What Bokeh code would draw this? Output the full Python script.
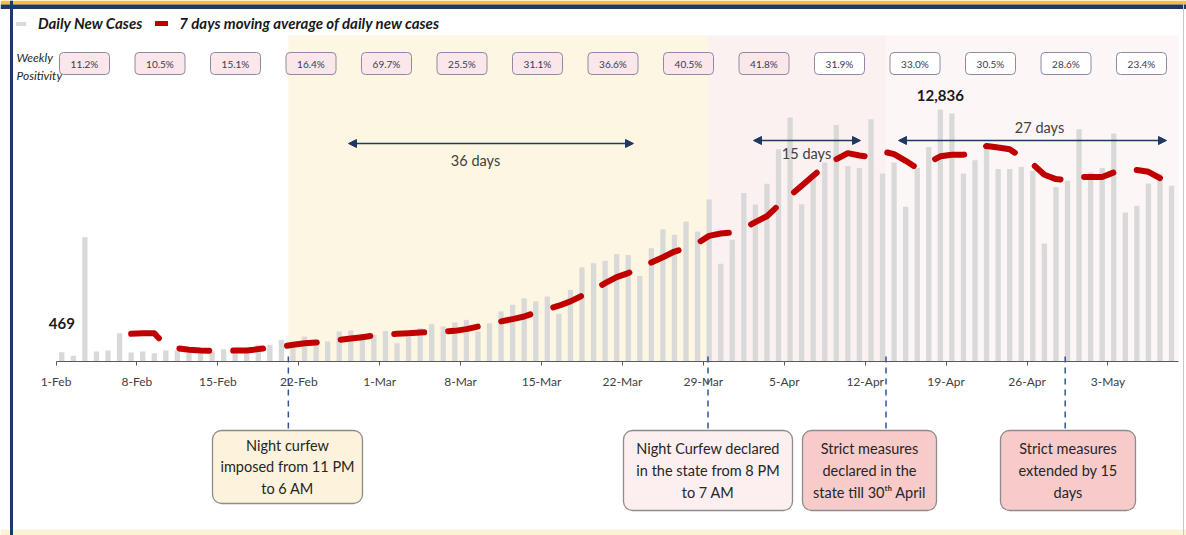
import numpy as np
from bokeh.plotting import figure
from bokeh.models import FixedTicker, Arrow, NormalHead, Legend, LegendItem, Span
from bokeh.core.properties import value
from bokeh.embed import file_html
from bokeh.resources import INLINE

# ---------------- data ----------------
tick_labels = ["1-Feb", "8-Feb", "15-Feb", "22-Feb", "1-Mar", "8-Mar", "15-Mar",
               "22-Mar", "29-Mar", "5-Apr", "12-Apr", "19-Apr", "26-Apr", "3-May"]

# daily new cases, one value per day starting 1-Feb
daily_cases = [
    469, 290, 6330, 510, 560, 1440, 460, 510, 425, 560,
    560, 430, 510, 510, 630, 460, 600, 850, 850, 1100,
    760, 1270, 930, 1020, 1530, 1580, 1410, 1360, 1550, 930,
    1270, 1700, 1900, 1780, 1990, 2120, 1530, 1950, 2550, 2890,
    3220, 3060, 3310, 2430, 3650, 4800, 5010, 5130, 5480, 5430,
    4360, 5770, 6740, 6450, 7130, 6620, 8250, 4980, 6200, 8580,
    8000, 9050, 10810, 12430, 8010, 9540, 10130, 12050, 9960, 9850,
    12340, 9570, 10130, 7880, 9850, 10930, 12836, 12630, 9570, 10250,
    10810, 9800, 9800, 9910, 9710, 6010, 8890, 9200, 11830, 9630,
    9850, 11610, 7590, 7930, 9070, 9570, 8950,
]

# 7 days moving average, starting on 7-Feb
ma_first_day = 6
moving_avg = [
    1410, 1440, 1440, 800, 680, 600, 560, 550, 550, 555,
    560, 630, 700, 760, 850, 930, 970, 1020, 1100, 1170,
    1240, 1320, 1390, 1410, 1440, 1480, 1490, 1530, 1560, 1650,
    1780, 1920, 2040, 2160, 2290, 2500, 2670, 2840, 3060, 3350,
    3650, 3990, 4300, 4500, 4800, 5040, 5310, 5600, 5770, 6030,
    6400, 6520, 6570, 6780, 7100, 7400, 7950, 8440, 8950, 9460,
    9960, 10300, 10610, 10490, 10420, 10700, 10560, 10220, 9850, 10130,
    10450, 10530, 10530, 10610, 10980, 10900, 10810, 10420, 10050, 9510,
    9290, 9250, 9400, 9400, 9400, 9630, 9800, 9750, 9660, 9340,
]

weekly_positivity = ["11.2%", "10.5%", "15.1%", "16.4%", "69.7%", "25.5%", "31.1%",
                     "36.6%", "40.5%", "41.8%", "31.9%", "33.0%", "30.5%", "28.6%", "23.4%"]

# events (day index from 1-Feb) and their notes
event_days = [20.1, 56.4, 71.8, 87.3]
event_notes = [
    "Night curfew\nimposed from 11 PM\nto 6 AM",
    "Night Curfew declared\nin the state from 8 PM\nto 7 AM",
    "Strict measures\ndeclared in the\nstate till 30\u1d57\u02b0 April",
    "Strict measures\nextended by 15\ndays",
]

# ---------------- layout helpers ----------------
W, H = 1186, 535
X0_PX, PX_PER_DAY = 55.5, 11.56
BASE_PX, CASES_PER_PX = 361.0, 50.93


def X(px):
    return (px - X0_PX) / PX_PER_DAY


def Y(py):
    return (BASE_PX - py) * CASES_PER_PX


x_lo, x_hi = X(0), X(W)
y_lo, y_hi = Y(H), Y(0)
n_days = len(daily_cases)

FONT = value("Lato")

p = figure(width=W, height=H, x_range=(x_lo, x_hi), y_range=(y_lo, y_hi),
           output_backend="svg", toolbar_location=None, y_axis_location=None,
           min_border=0, outline_line_color=None, background_fill_color="white",
           border_fill_color="white")
p.xgrid.visible = False
p.ygrid.visible = False

# ---------------- background phases ----------------
shade_top = Y(35)
p.quad(left=[event_days[0], event_days[1], event_days[2]],
       right=[event_days[1], event_days[2], n_days + 0.1],
       bottom=[0, 0, 0], top=[shade_top] * 3,
       fill_color=["#fdf6e2", "#fcf1f1", "#fdf6f6"], line_color=None)

# frame decorations
p.quad(left=[x_lo, x_lo, x_lo], right=[x_hi, x_hi, x_hi],
       top=[y_hi, Y(4), Y(529)], bottom=[Y(4), Y(8.5), y_lo],
       fill_color=["#f2c230", "#1f3864", "#fcf3d6"], line_color=None)
p.add_layout(Span(location=X(11), dimension="height", line_color="#1f3864", line_width=3))
p.add_layout(Span(location=X(1183), dimension="height", line_color="#c8c8c8", line_width=1))

# ---------------- bars & moving average ----------------
days = np.arange(n_days)
bars = p.vbar(x=days + 0.5, top=daily_cases, width=0.46, fill_color="#d9d9d9",
              line_color=None)
ma_x = np.arange(ma_first_day, ma_first_day + len(moving_avg)) + 0.5
ma_line = p.line(x=ma_x, y=moving_avg, line_color="#c00000", line_width=6,
                 line_dash="30 24", line_cap="round", line_join="round")

# value labels
p.text(x=[0.5], y=[daily_cases[0]], text=[f"{daily_cases[0]:,}"], y_offset=-29,
       text_font=FONT, text_font_size="15px", text_font_style="bold",
       text_align="center", text_baseline="middle", text_color="#1a1a1a")
imax = int(np.argmax(daily_cases))
p.text(x=[imax + 0.5], y=[daily_cases[imax]], text=[f"{daily_cases[imax]:,}"], y_offset=-14,
       text_font=FONT, text_font_size="15px", text_font_style="bold",
       text_align="center", text_baseline="middle", text_color="#1a1a1a")

# ---------------- x axis ----------------
ax = p.xaxis[0]
ax.fixed_location = 0
ax.bounds = (0, n_days + 0.1)
tick_days = [7 * k for k in range(len(tick_labels))]
ax.ticker = FixedTicker(ticks=tick_days)
ax.major_label_overrides = {d: lab for d, lab in zip(tick_days, tick_labels)}
ax.minor_tick_line_color = None
ax.major_tick_in = 0
ax.major_tick_out = 4
ax.axis_line_color = "#595959"
ax.major_tick_line_color = "#595959"
ax.major_label_text_font = "Lato"
ax.major_label_text_font_size = "12px"
ax.major_label_text_color = "#404040"
ax.major_label_standoff = 8

# ---------------- legend ----------------
legend = Legend(items=[LegendItem(label="Daily New Cases", renderers=[bars]),
                       LegendItem(label="7 days moving average of daily new cases",
                                  renderers=[ma_line])],
                orientation="horizontal", location="top_left", margin=14, padding=0,
                glyph_width=13, glyph_height=5, label_standoff=11, spacing=13,
                label_text_font="Lato", label_text_font_size="15px",
                label_text_font_style="bold italic", label_text_color="#1a1a1a",
                background_fill_alpha=0, border_line_color=None)
p.add_layout(legend)

# ---------------- weekly positivity ----------------
p.text(x=[X(16), X(16)], y=[Y(57), Y(75)], text=["Weekly", "Positivity"],
       text_font=FONT, text_font_size="12px", text_font_style="italic",
       text_align="left", text_baseline="middle", text_color="#262626")
box_cx = [84 + 75.5 * k for k in range(len(weekly_positivity))]
p.quad(left=[X(c - 25) for c in box_cx], right=[X(c + 25) for c in box_cx],
       top=[Y(52)] * len(box_cx), bottom=[Y(74)] * len(box_cx),
       fill_color=["#fbe6ea" if k < 10 else "#ffffff" for k in range(len(box_cx))],
       line_color="#8e8aa6", line_width=1, border_radius=4)
p.text(x=[X(c) for c in box_cx], y=[Y(63)] * len(box_cx), text=weekly_positivity,
       text_font=FONT, text_font_size="10px", text_align="center",
       text_baseline="middle", text_color="#3a3a55")

# ---------------- duration arrows ----------------
arrow_specs = [(348, 633, 143, "36 days", 475, 160),
               (753, 860, 140, "15 days", 806, 153),
               (898, 1166, 140, "27 days", 1039, 127)]
for xs, xe, ya, lab, tx, ty in arrow_specs:
    p.add_layout(Arrow(start=NormalHead(size=8, fill_color="#1f3864", line_color="#1f3864"),
                       end=NormalHead(size=8, fill_color="#1f3864", line_color="#1f3864"),
                       x_start=X(xs), y_start=Y(ya), x_end=X(xe), y_end=Y(ya),
                       line_color="#1f3864", line_width=1.3))
    p.text(x=[X(tx)], y=[Y(ty)], text=[lab], text_font=FONT, text_font_size="14.5px",
           text_align="center", text_baseline="middle", text_color="#404040")

# ---------------- event markers ----------------
p.segment(x0=event_days, y0=[Y(356)] * 4, x1=event_days, y1=[Y(430)] * 4,
          line_color="#2f5597", line_width=1.5, line_dash="6 5")
box_geo = [(287, 150, 73), (707.5, 169, 80), (869, 134, 80), (1067.5, 135, 80)]
box_fill = ["#fdf2db", "#fdeef0", "#f8cbcb", "#f8cbcb"]
p.quad(left=[X(c - w / 2) for c, w, h in box_geo], right=[X(c + w / 2) for c, w, h in box_geo],
       top=[Y(430)] * 4, bottom=[Y(430 + h) for c, w, h in box_geo],
       fill_color=box_fill, line_color="#8c8c8c", line_width=1.3, border_radius=9)
p.text(x=[X(c) for c, w, h in box_geo], y=[Y(430 + h / 2) for c, w, h in box_geo],
       text=event_notes, text_font=FONT, text_font_size="14.5px", text_align="center",
       text_baseline="middle", text_line_height=1.27, text_color="#262626")

open("out.html", "w").write(file_html(p, INLINE))
